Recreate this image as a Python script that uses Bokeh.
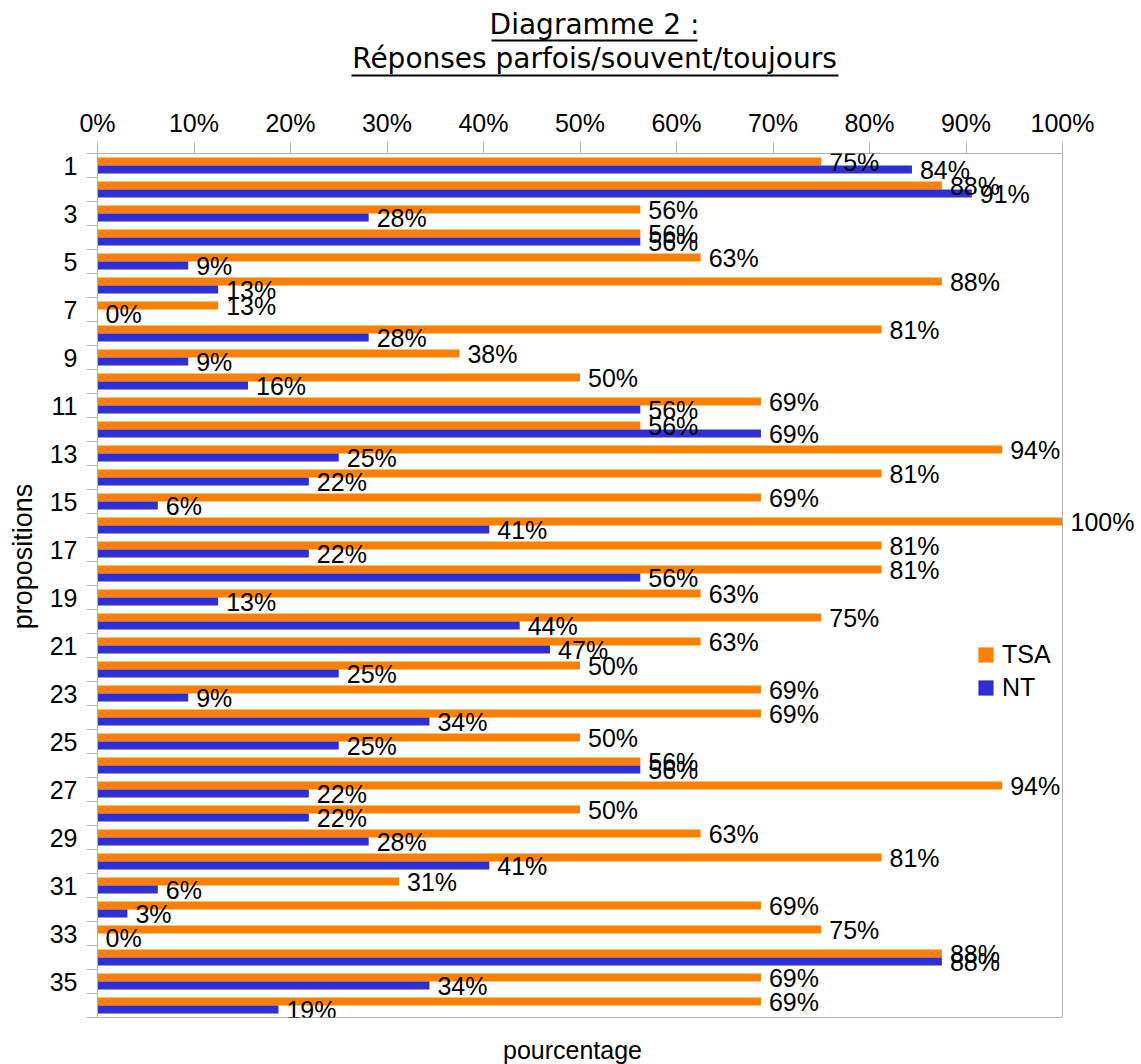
from bokeh.plotting import figure
from bokeh.layouts import column
from bokeh.models import (Range1d, FixedTicker, PrintfTickFormatter, Label, LabelSet,
                          ColumnDataSource, Legend, LegendItem, LinearAxis, Span)
from bokeh.core.properties import value
from bokeh.embed import file_html
from bokeh.resources import INLINE
import math

# ---------------- data ----------------
propositions = list(range(1, 37))
tsa = [75, 87.5, 56.25, 56.25, 62.5, 87.5, 12.5, 81.25, 37.5, 50,
       68.75, 56.25, 93.75, 81.25, 68.75, 100, 81.25, 81.25, 62.5, 75,
       62.5, 50, 68.75, 68.75, 50, 56.25, 93.75, 50, 62.5, 81.25,
       31.25, 68.75, 75, 87.5, 68.75, 68.75]
nt = [84.4, 90.6, 28.1, 56.25, 9.4, 12.5, 0, 28.1, 9.4, 15.6,
      56.25, 68.75, 25, 21.9, 6.25, 40.6, 21.9, 56.25, 12.5, 43.75,
      46.9, 25, 9.4, 34.4, 25, 56.25, 21.9, 21.9, 28.1, 40.6,
      6.25, 3.1, 0, 87.5, 34.4, 18.75]
series_names = ["TSA", "NT"]
x_ticks = [0, 10, 20, 30, 40, 50, 60, 70, 80, 90, 100]
y_tick_labels = list(range(1, 36, 2))
title_lines = ["Diagramme 2 :", "Réponses parfois/souvent/toujours"]
x_title = "pourcentage"
y_title = "propositions"

# ---------------- style ----------------
FONT = "Liberation Sans"
TFONT = "DejaVu Sans"
ORANGE = "#ff8000"
BLUE = "#2e2ed1"
GRAY = "#b3b3b3"
FS = "25px"

W = 1141
TH = 90            # height of title strip
MH = 1064 - TH     # height of main chart
FL, FT, FB = 97, 63, 47   # frame left / top border / bottom border of main chart
PX_PER_PCT = 9.65
x_end = (W - FL) / PX_PER_PCT   # plot area continues right of 100 % so labels are not clipped

# ---------------- title strip ----------------
t = figure(width=W, height=TH, output_backend="svg", toolbar_location=None, tools="",
           x_range=Range1d(FL, W), y_range=Range1d(TH, 0),
           x_axis_type=None, y_axis_type=None,
           min_border_left=FL, min_border_right=0, min_border_top=0, min_border_bottom=0)
t.grid.visible = False
t.outline_line_color = None
t.title.text = ""
TX = 594
t.text(x=[TX, TX], y=[24, 58], text=title_lines, text_align="center",
       text_baseline="middle", text_font=value(TFONT), text_font_size="28px",
       text_color="black")
t.segment(x0=[491, 351], x1=[697, 838], y0=[40, 75], y1=[40, 75],
          line_color="black", line_width=2)

# ---------------- main chart ----------------
p = figure(width=W, height=MH, output_backend="svg", toolbar_location=None, tools="",
           x_range=Range1d(0, x_end), y_range=Range1d(36.5, 0.5),
           x_axis_location="above",
           min_border_left=FL, min_border_right=0, min_border_top=FT, min_border_bottom=FB)
p.title.text = ""
p.grid.visible = False
p.outline_line_color = None
p.background_fill_color = "white"
p.border_fill_color = "white"

def lbl(v):
    return f"{int(v + 0.5)}%"

src = ColumnDataSource(dict(
    y_tsa=[i - 1/6 for i in propositions],
    y_nt=[i + 1/6 for i in propositions],
    tsa=tsa, nt=nt,
    tsa_lbl=[lbl(v) for v in tsa],
    nt_lbl=[lbl(v) for v in nt],
))

r_tsa = p.hbar(y="y_tsa", left=0, right="tsa", height=1/3, source=src,
               fill_color=ORANGE, line_color=None)
r_nt = p.hbar(y="y_nt", left=0, right="nt", height=1/3, source=src,
              fill_color=BLUE, line_color=None)

for xcol, ycol, tcol in [("tsa", "y_tsa", "tsa_lbl"), ("nt", "y_nt", "nt_lbl")]:
    ls = LabelSet(x=xcol, y=ycol, text=tcol, source=src, x_offset=8, y_offset=0,
                  text_baseline="middle", text_align="left",
                  text_font=value(FONT), text_font_size=value(FS), text_color="black")
    p.add_layout(ls)

# right border of the plot area at 100 %
p.add_layout(Span(location=100, dimension="height", line_color=GRAY, line_width=1))

# x axis (top)
xa = p.xaxis[0]
xa.bounds = (0, 100)
xa.ticker = FixedTicker(ticks=x_ticks, minor_ticks=[])
xa.formatter = PrintfTickFormatter(format="%d%%")
xa.major_tick_out = 11
xa.major_tick_in = 0
xa.minor_tick_out = 0
xa.minor_tick_in = 0
xa.axis_line_color = GRAY
xa.major_tick_line_color = GRAY
xa.major_label_text_font = FONT
xa.major_label_text_font_size = FS
xa.major_label_text_color = "black"
xa.major_label_standoff = 6

# bottom border line (axis without ticks)
xb = LinearAxis(bounds=(0, 100), ticker=FixedTicker(ticks=[], minor_ticks=[]),
                major_tick_out=0, major_tick_in=0, minor_tick_out=0, minor_tick_in=0,
                major_label_standoff=0, axis_line_color=GRAY)
p.add_layout(xb, "below")

# y axis (left)
ya = p.yaxis[0]
ya.ticker = FixedTicker(ticks=y_tick_labels, minor_ticks=[k + 0.5 for k in range(0, 37)])
ya.major_tick_out = 0
ya.major_tick_in = 0
ya.major_tick_line_color = None
ya.minor_tick_out = 11
ya.minor_tick_in = 0
ya.minor_tick_line_color = GRAY
ya.axis_line_color = GRAY
ya.major_label_text_font = FONT
ya.major_label_text_font_size = FS
ya.major_label_text_color = "black"
ya.major_label_standoff = 9

# legend
legend = Legend(items=[LegendItem(label=series_names[0], renderers=[r_tsa]),
                       LegendItem(label=series_names[1], renderers=[r_nt])],
                location=(879, 315), orientation="vertical",
                glyph_width=19, glyph_height=19, label_height=25, spacing=4,
                label_standoff=7, padding=0, margin=0,
                border_line_color=None, background_fill_alpha=0,
                label_text_font=FONT, label_text_font_size=FS, label_text_color="black")
p.add_layout(legend)

# axis titles (placed in side panels, absolute canvas position)
p.add_layout(Label(x=572, y=1049 - TH, x_units="canvas", y_units="canvas", text=x_title,
                   text_align="center", text_baseline="middle",
                   text_font=FONT, text_font_size=FS, text_color="black"), "below")
p.add_layout(Label(x=22, y=556 - TH, x_units="canvas", y_units="canvas", text=y_title,
                   angle=math.pi / 2, text_align="center", text_baseline="middle",
                   text_font=FONT, text_font_size="27px", text_color="black"), "left")

open("out.html", "w").write(file_html(column(t, p, spacing=0), INLINE))
